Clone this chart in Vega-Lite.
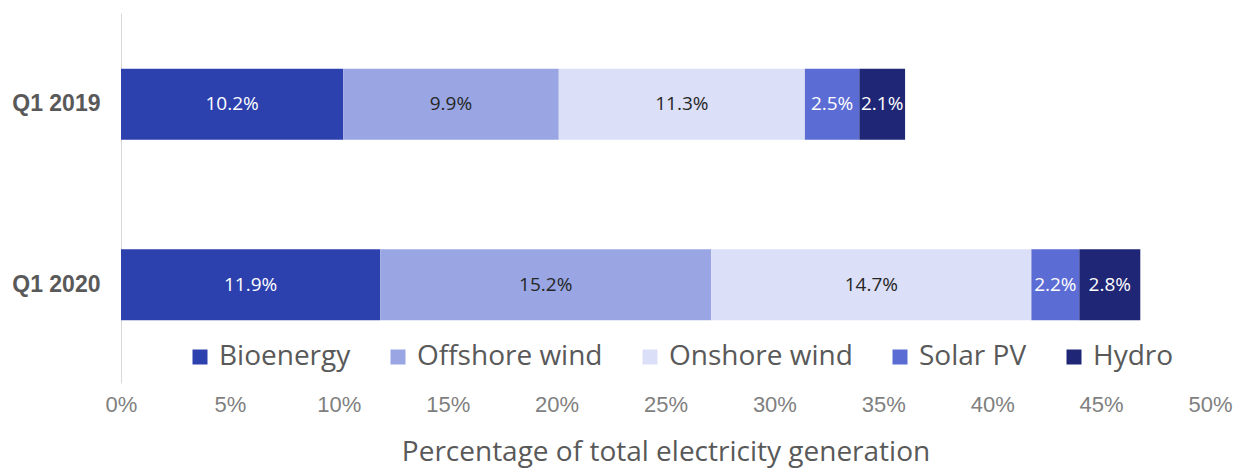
{
  "$schema": "https://vega.github.io/schema/vega-lite/v6.json",
  "autosize": "none",
  "width": 1089,
  "height": 370,
  "padding": {"left": 121, "top": 13, "right": 24, "bottom": 87},
  "background": "white",
  "config": {"view": {"stroke": null}},
  "data": {
    "values": [
      {"quarter": "Q1 2019", "source": "Bioenergy", "order": 1, "share": 0.102},
      {"quarter": "Q1 2019", "source": "Offshore wind", "order": 2, "share": 0.099},
      {"quarter": "Q1 2019", "source": "Onshore wind", "order": 3, "share": 0.113},
      {"quarter": "Q1 2019", "source": "Solar PV", "order": 4, "share": 0.025},
      {"quarter": "Q1 2019", "source": "Hydro", "order": 5, "share": 0.021},
      {"quarter": "Q1 2020", "source": "Bioenergy", "order": 1, "share": 0.119},
      {"quarter": "Q1 2020", "source": "Offshore wind", "order": 2, "share": 0.152},
      {"quarter": "Q1 2020", "source": "Onshore wind", "order": 3, "share": 0.147},
      {"quarter": "Q1 2020", "source": "Solar PV", "order": 4, "share": 0.022},
      {"quarter": "Q1 2020", "source": "Hydro", "order": 5, "share": 0.028}
    ]
  },
  "encoding": {
    "y": {
      "field": "quarter",
      "type": "nominal",
      "sort": ["Q1 2019", "Q1 2020"],
      "scale": {"paddingInner": 0.607, "paddingOuter": 0.328, "align": 0.47},
      "axis": {
        "title": null,
        "ticks": false,
        "domain": true,
        "domainColor": "#d9d9d9",
        "domainWidth": 1,
        "labelFont": "Liberation Sans",
        "labelFontWeight": "bold",
        "labelFontSize": 23,
        "labelColor": "#595959",
        "labelPadding": 21
      }
    },
    "x": {
      "field": "share",
      "type": "quantitative",
      "stack": "zero",
      "scale": {"domain": [0, 0.5], "nice": false},
      "axis": {
        "title": "Percentage of total electricity generation",
        "format": ".0%",
        "values": [0, 0.05, 0.1, 0.15, 0.2, 0.25, 0.3, 0.35, 0.4, 0.45, 0.5],
        "domain": false,
        "ticks": false,
        "grid": false,
        "labelFlush": false,
        "labelFont": "Liberation Sans",
        "labelFontSize": 22,
        "labelColor": "#7f7f7f",
        "labelPadding": 11,
        "titleFont": "Open Sans",
        "titleFontSize": 28,
        "titleFontWeight": "normal",
        "titleColor": "#595959",
        "titlePadding": 23
      }
    },
    "order": {"field": "order", "type": "quantitative"}
  },
  "layer": [
    {
      "mark": {"type": "bar"},
      "encoding": {
        "color": {
          "field": "source",
          "type": "nominal",
          "scale": {
            "domain": ["Bioenergy", "Offshore wind", "Onshore wind", "Solar PV", "Hydro"],
            "range": ["#2c40ae", "#99a6e3", "#dbdff7", "#5b6cd4", "#1f2676"]
          },
          "legend": {
            "title": null,
            "orient": "none",
            "direction": "horizontal",
            "columns": 5,
            "legendX": 65,
            "legendY": 330,
            "symbolType": "square",
            "symbolSize": 225,
            "symbolStrokeWidth": 0,
            "labelFont": "Open Sans",
            "labelFontSize": 28,
            "labelColor": "#595959",
            "labelOffset": 5,
            "columnPadding": 33,
            "labelLimit": 400
          }
        }
      }
    },
    {
      "mark": {
        "type": "text",
        "font": "Open Sans",
        "fontSize": 19,
        "align": "center",
        "baseline": "middle",
        "dx": {"expr": "-scale('x', datum.share) / 2"}
      },
      "encoding": {
        "detail": {"field": "source"},
        "text": {"field": "share", "type": "quantitative", "format": ".1%"},
        "color": {
          "condition": {"test": "datum.source === 'Offshore wind' || datum.source === 'Onshore wind'", "value": "#262626"},
          "value": "white"
        }
      }
    }
  ]
}
